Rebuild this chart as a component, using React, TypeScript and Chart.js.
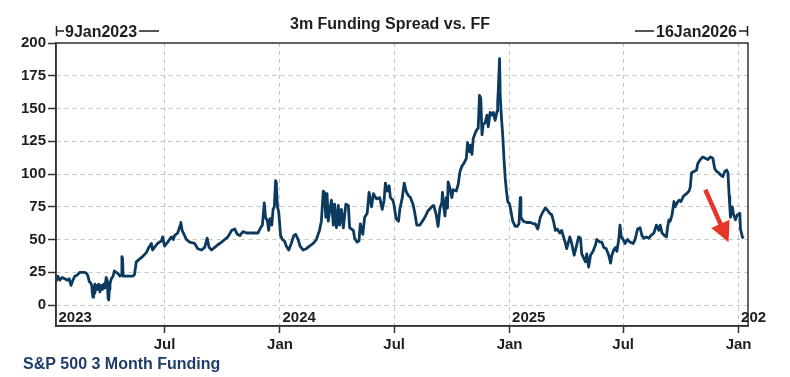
import { useEffect, useRef } from "react";
import { Chart, registerables } from "chart.js";

Chart.register(...registerables);

// Days since 9 Jan 2023
const DAYS = [
  0, 3, 6, 10, 14, 18, 21, 24, 27, 30, 34, 38, 42, 46, 49, 51, 53, 55, 57, 58, 59, 60, 61, 62, 63, 64, 66, 68, 70, 72, 74, 76, 78, 80, 82, 83, 84, 85, 86, 88, 91, 93, 96, 99, 102, 104, 105, 106, 107, 110, 114, 118, 122, 125, 128, 133, 138, 144, 148, 152, 154, 157, 162, 168, 170, 173, 178, 184, 187, 189, 194, 198, 199, 201, 205, 208, 213, 221, 226, 232, 237, 241, 244, 248, 253, 258, 264, 269, 274, 280, 285, 289, 293,
  298, 304, 310, 316, 322, 325, 329, 332, 334, 337, 339, 341, 344, 346, 348, 350, 351, 353, 355, 358, 361, 364, 367, 371, 375, 379, 382, 386, 389, 394, 399, 404, 410, 415, 420, 423, 426, 428, 430, 432, 434, 436, 439, 442, 444, 447, 450, 452, 455, 458, 462, 466, 468, 474, 476, 480, 483, 485, 489, 492, 496, 499, 503, 506, 511, 516, 520, 523, 525, 528, 531, 533, 537, 539, 542, 546, 548, 552, 555, 558, 561, 565, 569, 572, 575, 580,
  584, 588, 593, 599, 602, 606, 609, 612, 615, 616, 618, 620, 622, 624, 625, 628, 631, 633, 638, 641, 644, 647, 650, 654, 656, 659, 661, 663, 665, 668, 671, 673, 675, 677, 679, 681, 684, 687, 689, 692, 695, 697, 700, 703, 704, 705, 707, 708, 710, 712, 714, 716, 718, 720, 723, 725, 728, 732, 735, 738, 740, 741, 745, 750, 756, 761,
  764, 768, 772, 776, 780, 784, 787, 790, 793, 796, 799, 803, 806, 809, 812, 814, 819, 822, 826, 829, 833, 836, 838, 841, 844, 846, 849, 852, 856, 860, 862, 867, 870, 873, 877, 881, 884, 886, 889, 892, 894, 897, 899, 901, 904, 907, 911, 915, 920, 923, 927, 931, 934, 937, 941, 945, 948, 953, 957, 961, 963, 966, 970, 973, 975, 977, 979, 982, 985, 987, 990, 993, 996, 1000, 1005, 1009, 1011, 1013, 1017, 1021, 1023, 1027, 1031, 1035, 1039, 1043, 1047, 1050, 1053, 1056, 1060, 1063, 1066, 1069, 1071, 1073, 1074, 1075, 1078, 1080, 1083, 1086, 1088, 1090, 1091, 1094, 1096,
];

// Spread (bp)
const SPREAD = [
  18, 22, 19, 21, 20, 19, 20, 15, 19, 22, 23, 25, 25, 25, 24, 22, 18, 17, 15, 9, 6, 14, 9, 16, 11, 15, 12, 16, 10, 15, 12, 16, 13, 21, 18, 5, 4, 12, 16, 20, 22, 26, 25, 24, 22, 23, 37, 36, 22, 22, 22, 22, 22, 23, 33, 35, 37, 40, 44, 47, 42, 44, 47, 49, 52, 45, 48, 52, 50, 53, 55, 61, 63, 57, 53, 50, 48, 47, 43, 42, 44, 51, 44, 42, 44, 46, 48, 50, 52, 57, 58, 54, 53,
  56, 55, 55, 55, 55, 58, 61, 78, 67, 64, 57, 66, 61, 73, 75, 95, 94, 75, 71, 53, 50, 49, 45, 42, 47, 53, 54, 50, 45, 42, 43, 45, 47, 50, 57, 64, 87, 86, 67, 85, 64, 71, 80, 61, 77, 59, 76, 61, 73, 59, 77, 76, 59, 57, 51, 48, 49, 62, 54, 67, 70, 86, 75, 85, 81, 82, 73, 80, 93, 87, 91, 82, 80, 76, 66, 64, 73, 82, 93, 87, 84, 82, 77, 70, 61, 61,
  64, 67, 72, 75, 76, 69, 60, 74, 78, 86, 75, 68, 82, 74, 94, 89, 82, 88, 87, 92, 102, 106, 108, 112, 124, 117, 122, 115, 127, 131, 134, 135, 160, 158, 130, 138, 139, 145, 136, 147, 145, 147, 141, 148, 155, 164, 188, 160, 143, 130, 112, 97, 87, 79, 77, 72, 64, 60, 60, 62, 82, 67, 64, 63, 63, 62,
  62, 58, 67, 71, 74, 72, 70, 69, 64, 57, 58, 55, 57, 52, 47, 43, 52, 47, 38, 44, 52, 51, 39, 36, 33, 39, 29, 38, 41, 46, 50, 48, 48, 44, 43, 38, 32, 38, 42, 44, 41, 50, 61, 52, 50, 47, 50, 48, 47, 50, 58, 59, 53, 51, 52, 51, 53, 55, 61, 57, 61, 55, 53, 52, 60, 65, 64, 69, 79, 75, 78, 80, 79, 83, 85, 87, 90, 101, 102, 103, 108, 111, 113, 112, 111, 113, 112, 104, 102, 101, 99, 98, 102, 103, 101, 83, 75, 67, 75, 69, 65, 69, 69, 70, 58, 52, 51,
];

const X_MIN_DAY = 0; // 9 Jan 2023
const X_MAX_DAY = 1103; // 16 Jan 2026
const X_TICK_DAYS = [173, 357, 539, 723, 904, 1088];
const X_TICK_LABELS = ["Jul", "Jan", "Jul", "Jan", "Jul", "Jan"];
const YEAR_DAYS = [0, 357, 723, 1088];
const YEAR_LABELS = ["2023", "2024", "2025", "202"];
const Y_TICKS = [0, 25, 50, 75, 100, 125, 150, 175, 200];
const Y_MIN = -16;
const Y_MAX = 200;

const TITLE = "3m Funding Spread vs. FF";
const START_LABEL = "9Jan2023";
const END_LABEL = "16Jan2026";
const SERIES_NAME = "S&P 500 3 Month Funding";

// Arrow annotation (day, value)
const ARROW_FROM = [1035, 88];
const ARROW_TO = [1072, 48];

const FONT = '"Liberation Sans", Arial, sans-serif';
const LINE_COLOR = "#0c3a5e";
const TEXT_COLOR = "#1e1e1e";

const decorPlugin = {
  id: "decor",
  afterDatasetsDraw(chart: any) {
    const { ctx, chartArea, scales } = chart;
    const xs = scales.x;
    const ys = scales.y;
    ctx.save();
    ctx.strokeStyle = "#333";
    ctx.lineWidth = 1.5;
    ctx.setLineDash([]);
    ctx.strokeRect(chartArea.left, chartArea.top, chartArea.right - chartArea.left, chartArea.bottom - chartArea.top);

    ctx.fillStyle = TEXT_COLOR;
    ctx.font = `bold 15px ${FONT}`;
    ctx.textAlign = "left";
    ctx.textBaseline = "alphabetic";
    YEAR_DAYS.forEach((d, i) => {
      ctx.fillText(YEAR_LABELS[i], xs.getPixelForValue(d) + 2.5, chartArea.bottom - 4);
    });

    const x1 = xs.getPixelForValue(ARROW_FROM[0]);
    const y1 = ys.getPixelForValue(ARROW_FROM[1]);
    const x2 = xs.getPixelForValue(ARROW_TO[0]);
    const y2 = ys.getPixelForValue(ARROW_TO[1]);
    const ang = Math.atan2(y2 - y1, x2 - x1);
    const headLen = 20;
    const headW = 10;
    const bx = x2 - headLen * Math.cos(ang);
    const by = y2 - headLen * Math.sin(ang);
    ctx.strokeStyle = "#e8352a";
    ctx.fillStyle = "#e8352a";
    ctx.lineWidth = 4.5;
    ctx.beginPath();
    ctx.moveTo(x1, y1);
    ctx.lineTo(bx + 2 * Math.cos(ang), by + 2 * Math.sin(ang));
    ctx.stroke();
    ctx.beginPath();
    ctx.moveTo(x2, y2);
    ctx.lineTo(bx + headW * Math.sin(ang), by - headW * Math.cos(ang));
    ctx.lineTo(bx - headW * Math.sin(ang), by + headW * Math.cos(ang));
    ctx.closePath();
    ctx.fill();
    ctx.restore();
  },
  afterDraw(chart: any) {
    const { ctx, chartArea } = chart;
    ctx.save();
    ctx.fillStyle = TEXT_COLOR;
    ctx.strokeStyle = TEXT_COLOR;
    ctx.font = `bold 16px ${FONT}`;
    ctx.textBaseline = "alphabetic";
    ctx.textAlign = "center";
    ctx.fillText(TITLE, 390, 28.5);
    const L = chartArea.left;
    const R = chartArea.right;
    ctx.lineWidth = 1.5;
    ctx.beginPath();
    ctx.moveTo(L + 0.5, 26);
    ctx.lineTo(L + 0.5, 36);
    ctx.moveTo(L, 31);
    ctx.lineTo(L + 8, 31);
    ctx.stroke();
    ctx.textAlign = "left";
    ctx.fillText(START_LABEL, L + 9, 36.5);
    const sw = ctx.measureText(START_LABEL).width;
    ctx.beginPath();
    ctx.moveTo(L + 11 + sw, 31);
    ctx.lineTo(L + 103, 31);
    ctx.stroke();
    ctx.textAlign = "right";
    ctx.fillText(END_LABEL, R - 11, 36.5);
    const ew = ctx.measureText(END_LABEL).width;
    ctx.beginPath();
    ctx.moveTo(R - 0.5, 26);
    ctx.lineTo(R - 0.5, 36);
    ctx.moveTo(R, 31);
    ctx.lineTo(R - 9, 31);
    ctx.moveTo(R - 13 - ew, 31);
    ctx.lineTo(R - 113, 31);
    ctx.stroke();
    ctx.fillStyle = "#1f3d6b";
    ctx.textAlign = "left";
    ctx.fillText(SERIES_NAME, 23, 369);
    ctx.restore();
  },
};

export default function App() {
  const ref = useRef<HTMLCanvasElement | null>(null);
  useEffect(() => {
    if (!ref.current) return;
    const points = DAYS.map((d, i) => ({ x: d, y: SPREAD[i] }));
    const chart = new Chart(ref.current, {
      type: "line",
      data: {
        datasets: [
          {
            label: SERIES_NAME,
            data: points,
            borderColor: LINE_COLOR,
            borderWidth: 2.8,
            borderJoinStyle: "round",
            pointRadius: 0,
            tension: 0,
            fill: false,
          },
        ],
      },
      options: {
        animation: false,
        responsive: false,
        maintainAspectRatio: false,
        layout: { padding: { top: 43, right: 42, left: 0, bottom: 0 } },
        plugins: { legend: { display: false }, tooltip: { enabled: false }, title: { display: false } },
        scales: {
          x: {
            type: "linear",
            min: X_MIN_DAY,
            max: X_MAX_DAY,
            afterBuildTicks: (scale: any) => {
              scale.ticks = X_TICK_DAYS.map((v) => ({ value: v }));
            },
            afterFit: (scale: any) => {
              scale.height = 51;
            },
            ticks: {
              autoSkip: false,
              maxRotation: 0,
              minRotation: 0,
              padding: 3,
              color: TEXT_COLOR,
              font: { family: FONT, size: 15, weight: "bold" },
              callback: (_v: any, i: number) => X_TICK_LABELS[i],
            },
            grid: {
              color: "#c4c4c4",
              lineWidth: 1,
              drawTicks: true,
              tickLength: 7,
              tickColor: "#333",
              tickWidth: 1.5,
              tickBorderDash: [],
            },
            border: { display: true, color: "#333", width: 1.5, dash: [4, 4] },
          },
          y: {
            type: "linear",
            min: Y_MIN,
            max: Y_MAX,
            afterBuildTicks: (scale: any) => {
              scale.ticks = Y_TICKS.map((v) => ({ value: v }));
            },
            afterFit: (scale: any) => {
              scale.width = 56;
            },
            ticks: {
              padding: 2,
              color: TEXT_COLOR,
              font: { family: FONT, size: 15, weight: "bold" },
              callback: (v: any) => String(v),
            },
            grid: {
              color: "#c4c4c4",
              lineWidth: 1,
              drawTicks: true,
              tickLength: 8,
              tickColor: "#333",
              tickWidth: 1.5,
              tickBorderDash: [],
            },
            border: { display: true, color: "#333", width: 1.5, dash: [4, 4] },
          },
        },
      },
      plugins: [decorPlugin],
    } as any);
    return () => chart.destroy();
  }, []);
  return (
    <div style={{ position: "absolute", left: 0, top: 0, width: 790, height: 377, background: "#fff" }}>
      <canvas ref={ref} width={790} height={377} />
    </div>
  );
}
